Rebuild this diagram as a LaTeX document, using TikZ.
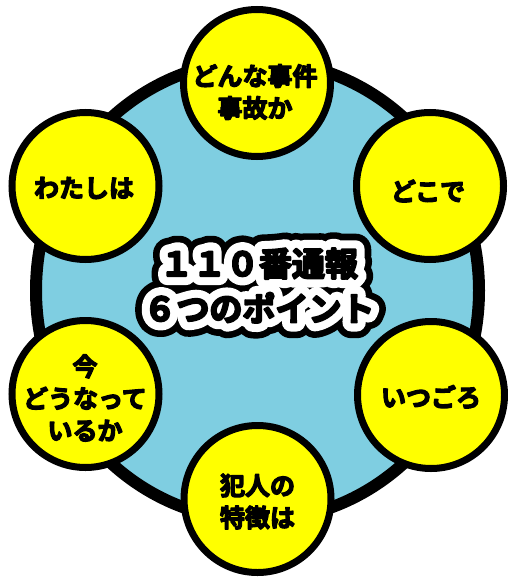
\documentclass[tikz,border=0pt]{standalone}
\usepackage{fontspec}
\usetikzlibrary{shapes.geometric}
\newfontfamily\jpb{Noto Sans CJK JP Bold}[FakeBold=5]
\newfontfamily\jpfill{Noto Sans CJK JP Bold}[FakeBold=6]
\newfontfamily\jpouter{Noto Sans CJK JP Bold}[FakeBold=95]
\newfontfamily\jpinner{Noto Sans CJK JP Bold}[FakeBold=55]
\definecolor{skyblue}{RGB}{127,206,225}
\definecolor{pointyellow}{RGB}{255,255,0}
\begin{document}
\begin{tikzpicture}[x=1pt,y=-1pt,
  hubstyle/.style={ellipse, draw=black, line width=12pt, fill=skyblue,
    minimum width=443pt, minimum height=460pt, inner sep=0pt},
  pointstyle/.style={circle, draw=black, line width=7pt, fill=pointyellow,
    minimum size=147pt, inner sep=0pt},
  ptext/.style={align=center, inner sep=0pt, text=black,
    font=\jpb\fontsize{25}{32}\selectfont},
  titlebase/.style={align=center, inner sep=0pt,
    font=\fontsize{33}{45}\selectfont},
]
\useasboundingbox (0,0) rectangle (507,577);
\node[hubstyle] (hub) at (257.5,290.5) {};
\node[pointstyle] (p1) at (257,83) {};
\node[pointstyle] (p2) at (430,186) {};
\node[pointstyle] (p3) at (431,395) {};
\node[pointstyle] (p4) at (257.5,499) {};
\node[pointstyle] (p5) at (85.5,394) {};
\node[pointstyle] (p6) at (85.5,186) {};
\begin{scope}[line join=round]
\node[ptext] (t1) at (255,92) {どんな事件\\事故か};
\node[ptext] (t2) at (428,191) {どこで};
\node[ptext] (t3) at (431,397) {いつごろ};
\node[ptext] (t4) at (257.5,501.5) {犯人の\\特徴は};
\node[ptext] (t5) at (85,398) {今\\どうなって\\いるか};
\node[ptext] (t6) at (84,188) {わたしは};
\node[titlebase, text=black] (titleA) at (259,285.5) {\jpouter １１０番通報\\\jpouter ６つのポイント};
\node[titlebase, text=white] (titleB) at (259,285.5) {\jpinner １１０番通報\\\jpinner ６つのポイント};
\node[titlebase, text=black] (titleC) at (259,285.5) {\jpfill １１０番通報\\\jpfill ６つのポイント};
\end{scope}
\end{tikzpicture}
\end{document}
